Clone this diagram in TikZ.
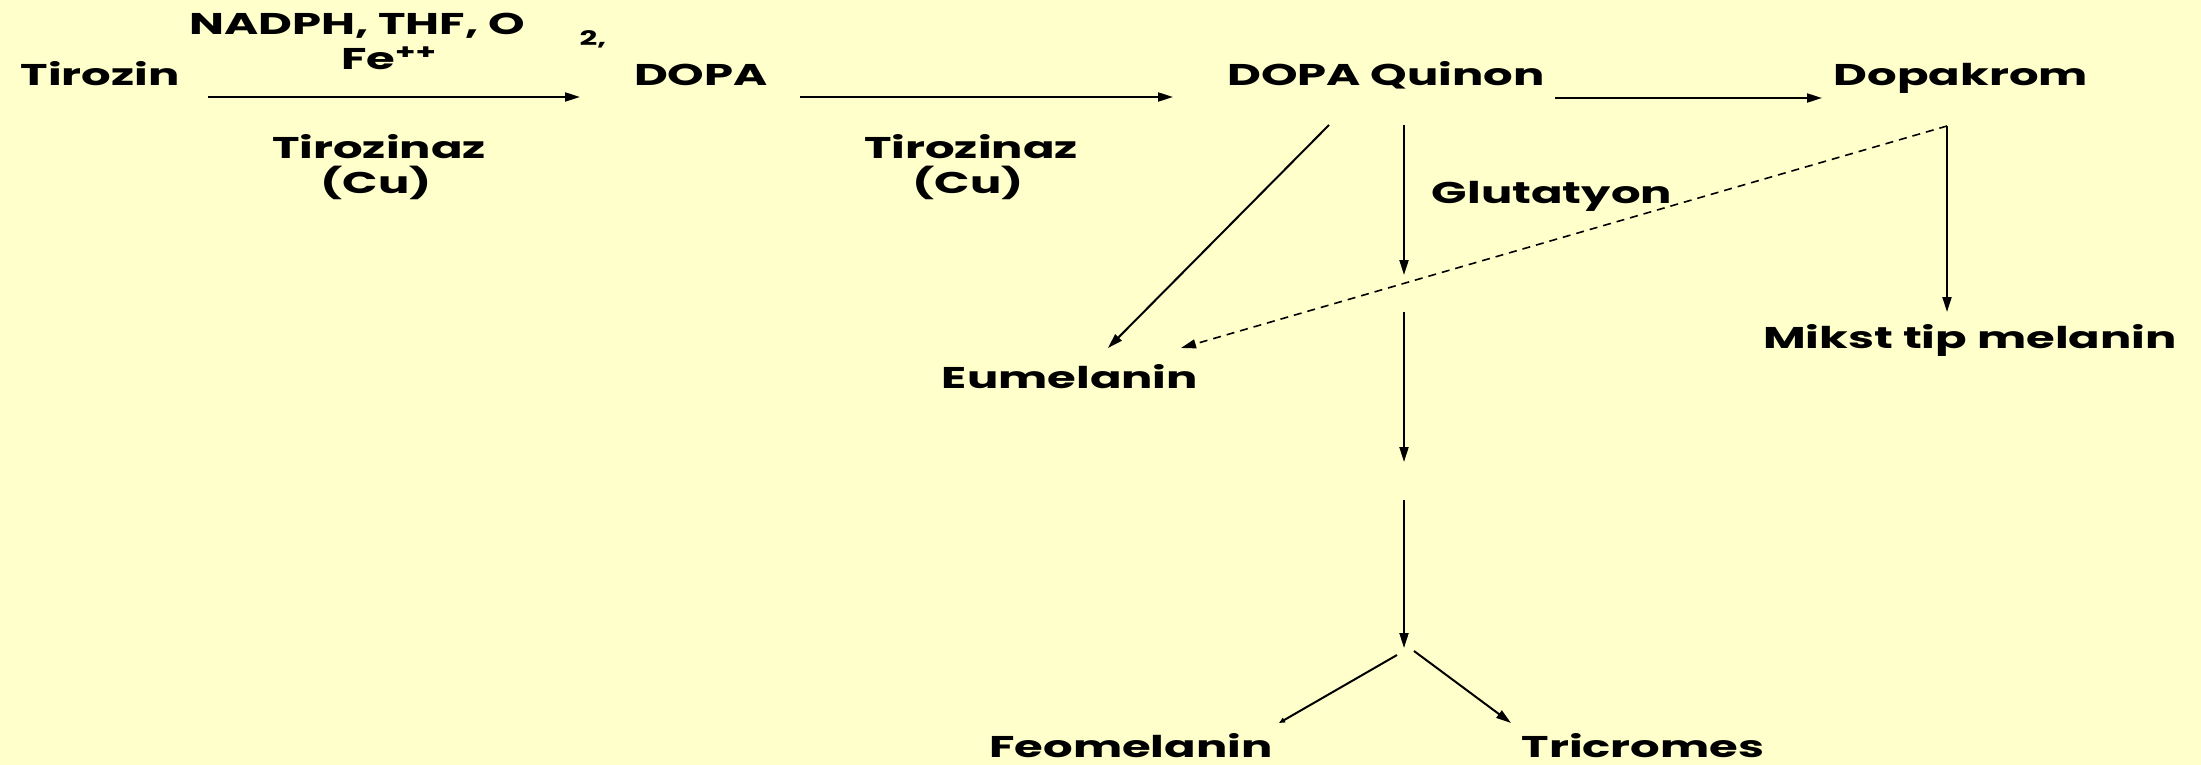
\documentclass[tikz,border=0pt]{standalone}
\usepackage{fontspec}
\setmainfont{Poppins}[FakeStretch=1.55]
\usetikzlibrary{arrows.meta}
\definecolor{bg}{HTML}{FFFFCC}
\begin{document}
\begin{tikzpicture}[x=0.5pt,y=-0.5pt,
  lbl/.style={font=\fontsize{15}{18}\selectfont\bfseries, inner sep=0pt, anchor=base},
  sml/.style={font=\fontsize{10}{12}\selectfont\bfseries, inner sep=0pt, anchor=base},
  arr/.style={line width=1pt, -{Triangle[length=7.5pt,width=4.5pt]}},
  tinyarr/.style={line width=1pt, -{Triangle[length=3pt,width=2.5pt]}},
  dsh/.style={line width=0.8pt, dash pattern=on 4pt off 3pt, -{Triangle[length=7.5pt,width=4.5pt]}}]
\fill[bg] (0,0) rectangle (2201,765);
\useasboundingbox (0,0) rectangle (2201,765);
% texts
\node[lbl] (tir) at (100,86) {Tirozin};
\node[lbl] (nadph) at (357,35) {NADPH, THF, O};
\node[sml] (two) at (593,46) {2,};
\node[lbl] (fe) at (389,70) {Fe\textsuperscript{++}};
\node[lbl] (enz1) at (379,158) {Tirozinaz};
\node[lbl] (cu1) at (376,193) {(Cu)};
\node[lbl] (dopa) at (701,86) {DOPA};
\node[lbl] (enz2) at (971,158) {Tirozinaz};
\node[lbl] (cu2) at (968,193) {(Cu)};
\node[lbl] (quin) at (1386,86) {DOPA Quinon};
\node[lbl] (krom) at (1961,86) {Dopakrom};
\node[lbl] (glut) at (1552,203) {Glutatyon};
\node[lbl] (eu) at (1070,388) {Eumelanin};
\node[lbl] (mikst) at (1970,348) {Mikst tip melanin};
\node[lbl] (feo) at (1131,757) {Feomelanin};
\node[lbl] (tri) at (1643,757) {Tricromes};
% connector end points
\coordinate (a1s) at (208,97);  \coordinate (a1e) at (580,97);
\coordinate (a2s) at (800,97);  \coordinate (a2e) at (1173,97);
\coordinate (a3s) at (1555,98); \coordinate (a3e) at (1822,98);
\coordinate (ds) at (1329,125); \coordinate (de) at (1108,348);
\coordinate (v1s) at (1404,125); \coordinate (v1e) at (1404,275);
\coordinate (v2s) at (1404,312); \coordinate (v2e) at (1404,462);
\coordinate (v3s) at (1404,500); \coordinate (v3e) at (1404,648);
\coordinate (ks) at (1947,126); \coordinate (ke) at (1947,312);
\coordinate (dde) at (1181,348);
\coordinate (bls) at (1397,655); \coordinate (ble) at (1279,723);
\coordinate (brs) at (1414,651); \coordinate (bre) at (1511,723);
% connectors
\draw[arr] (a1s) -- (a1e);
\draw[arr] (a2s) -- (a2e);
\draw[arr] (a3s) -- (a3e);
\draw[arr] (ds) -- (de);
\draw[arr] (v1s) -- (v1e);
\draw[arr] (v2s) -- (v2e);
\draw[arr] (v3s) -- (v3e);
\draw[arr] (ks) -- (ke);
\draw[dsh] (ks) -- (dde);
\draw[tinyarr] (bls) -- (ble);
\draw[arr] (brs) -- (bre);
\end{tikzpicture}
\end{document}
